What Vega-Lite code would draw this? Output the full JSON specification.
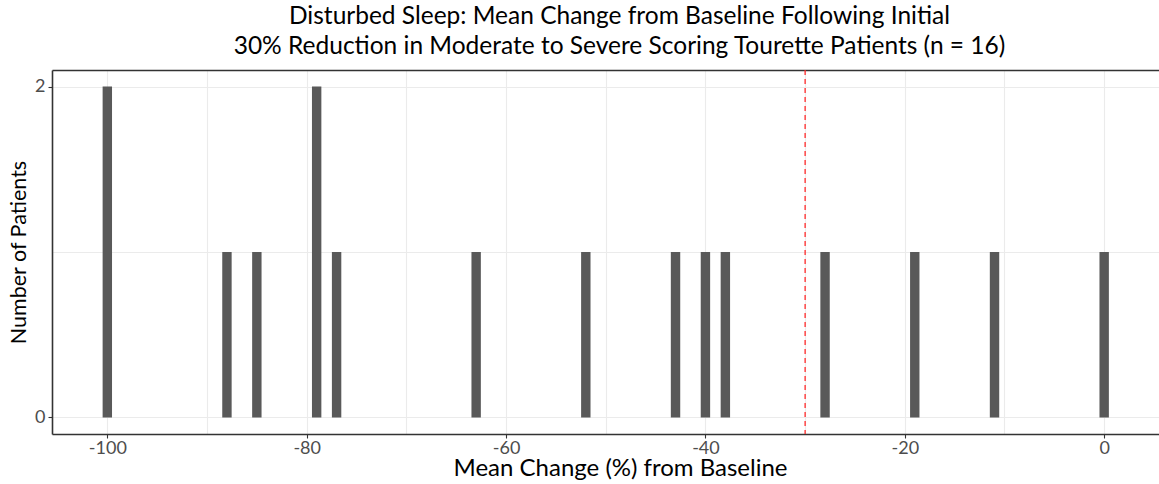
{
  "$schema": "https://vega.github.io/schema/vega-lite/v6.json",
  "autosize": "none",
  "width": 1107,
  "height": 364,
  "padding": {"left": 52, "top": 70, "right": 0, "bottom": 50},
  "background": "white",
  "config": {
    "font": "Lato",
    "view": {"stroke": null},
    "axis": {
      "domain": false,
      "gridColor": "#ebebeb",
      "gridWidth": 1.1,
      "tickColor": "#333333",
      "tickSize": 4,
      "tickWidth": 1.1,
      "labelColor": "#4d4d4d",
      "labelFont": "Lato",
      "labelFontSize": 18,
      "titleFont": "Lato",
      "titleFontSize": 22,
      "titleFontWeight": "normal",
      "titleColor": "#000000"
    }
  },
  "title": {
    "text": ["Disturbed Sleep: Mean Change from Baseline Following Initial", "30% Reduction in Moderate to Severe Scoring Tourette Patients (n = 16)"],
    "font": "Lato",
    "fontSize": 24.5,
    "fontWeight": "normal",
    "color": "#000000",
    "anchor": "middle",
    "lineHeight": 30,
    "offset": 10,
    "dx": 14
  },
  "layer": [
    {
      "data": {
        "values": [
          {"change": -100, "count": 2},
          {"change": -88, "count": 1},
          {"change": -85, "count": 1},
          {"change": -79, "count": 2},
          {"change": -77, "count": 1},
          {"change": -63, "count": 1},
          {"change": -52, "count": 1},
          {"change": -43, "count": 1},
          {"change": -40, "count": 1},
          {"change": -38, "count": 1},
          {"change": -28, "count": 1},
          {"change": -19, "count": 1},
          {"change": -11, "count": 1},
          {"change": 0, "count": 1}
        ]
      },
      "mark": {"type": "bar", "color": "#595959", "size": 9.4},
      "encoding": {
        "x": {
          "field": "change",
          "type": "quantitative",
          "scale": {"domain": [-105.55, 5.5], "nice": false, "zero": false, "padding": 0},
          "axis": {
            "title": "Mean Change (%) from Baseline",
            "titleFontSize": 24,
            "titleX": 568,
            "titleAnchor": "middle",
            "values": [-100, -90, -80, -70, -60, -50, -40, -30, -20, -10, 0],
            "labelExpr": "datum.value % 20 === 0 ? toString(datum.value) : ''",
            "tickOpacity": {"condition": {"test": "datum.value % 20 !== 0", "value": 0}, "value": 1},
            "labelPadding": 1,
            "titlePadding": -1,
            "domain": true,
            "domainColor": "#333333",
            "domainWidth": 1.6
          }
        },
        "y": {
          "field": "count",
          "type": "quantitative",
          "scale": {"domain": [-0.1, 2.1], "nice": false, "padding": 0},
          "axis": {
            "title": "Number of Patients",
            "titleFontSize": 21.5,
            "values": [0, 1, 2],
            "labelExpr": "datum.value === 1 ? '' : toString(datum.value)",
            "tickOpacity": {"condition": {"test": "datum.value === 1", "value": 0}, "value": 1},
            "labelPadding": 3,
            "titlePadding": 4,
            "domain": true,
            "domainColor": "#333333",
            "domainWidth": 1.6
          }
        }
      }
    },
    {
      "data": {"values": [{"threshold": -30}]},
      "mark": {"type": "rule", "color": "#ff2a2a", "strokeWidth": 1.3, "strokeDash": [5, 4]},
      "encoding": {
        "x": {
          "field": "threshold",
          "type": "quantitative",
          "axis": {
            "orient": "top",
            "title": null,
            "labels": false,
            "ticks": false,
            "grid": false,
            "domain": true,
            "domainColor": "#333333",
            "domainWidth": 1.6
          }
        }
      }
    }
  ],
  "resolve": {"axis": {"x": "independent"}}
}
